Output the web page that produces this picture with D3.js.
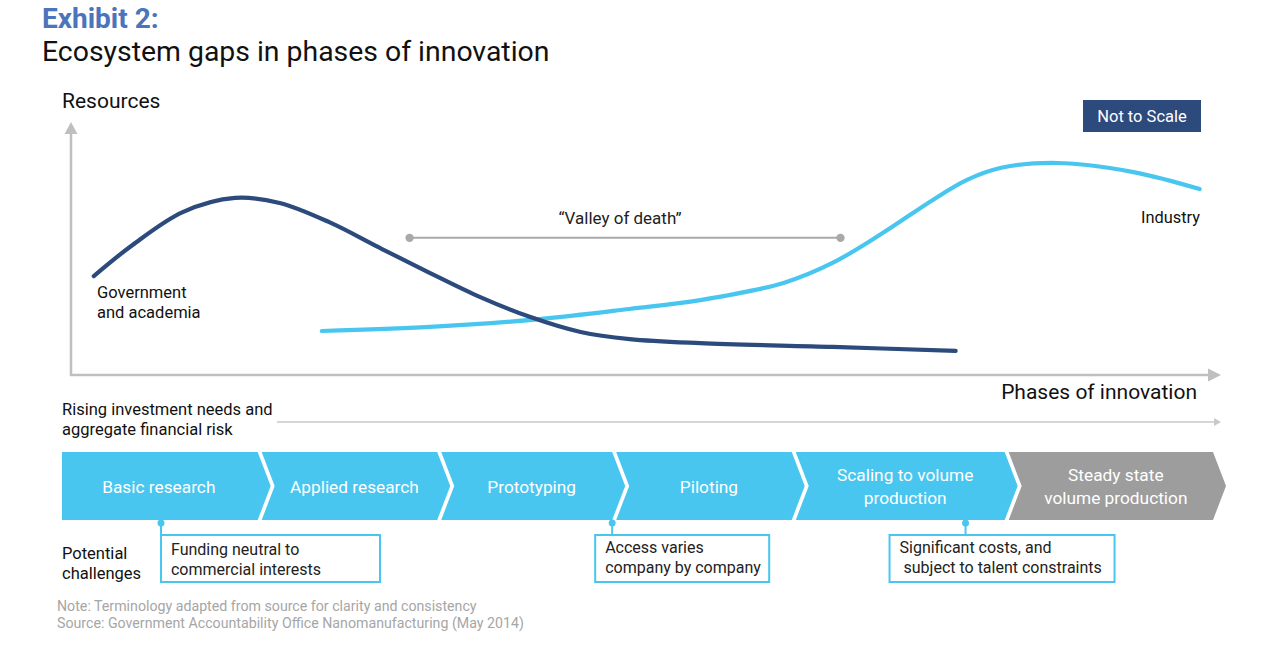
<!DOCTYPE html>
<html>
<head>
<meta charset="utf-8">
<script src="https://cdn.jsdelivr.net/npm/d3@7"></script>
<style>
  body { margin: 0; background: #fff; }
  svg { display: block; font-family: Roboto, "Open Sans", sans-serif; }
</style>
</head>
<body>
<div id="chart"></div>
<script>
/* Exhibit 2 — ecosystem gaps in phases of innovation */

// curves, in phase (x 0-100) and resource (y 0-100) units
var govCurve = [
  [2.0, 39.1], [5.4, 51.4], [9.8, 64.4], [14.4, 70.0], [18.3, 68.0],
  [22.7, 60.3], [27.1, 50.2], [31.5, 40.3], [35.9, 30.8], [40.3, 22.9],
  [44.7, 17.0], [49.0, 14.2], [55.2, 12.6], [66.8, 11.1], [77.6, 9.5]
];
var industryCurve = [
  [22.0, 17.4], [31.5, 19.0], [41.1, 22.1], [49.0, 26.1], [55.2, 29.6],
  [62.5, 36.4], [66.8, 44.3], [71.2, 56.1], [75.6, 69.2], [78.6, 77.1],
  [81.5, 81.8], [86.5, 83.8], [93.2, 80.2], [99.0, 73.5]
];
var valleyRange = [29.7, 67.5];
var valleyLevel = 54.2;

// stages along the bar, boundaries in 0-100 units
var stageNames = [
  ['Basic research'], ['Applied research'], ['Prototyping'], ['Piloting'],
  ['Scaling to volume', 'production'], ['Steady state', 'volume production']
];
var stageBounds = [0, 17.0, 32.6, 47.8, 63.4, 81.9, 100];
var stageSteady = [false, false, false, false, false, true];

// challenges, anchored to a point on the stage bar
var challengeText = [
  ['Funding neutral to', 'commercial interests'],
  ['Access varies', 'company by company'],
  ['Significant costs, and', ' subject to talent constraints']
];
var challengeAnchor = [8.6, 47.8, 78.5];

var noteLines = [
  'Note: Terminology adapted from source for clarity and consistency',
  'Source: Government Accountability Office Nanomanufacturing (May 2014)'
];

var W = 1282, H = 646;
var NAVY = '#2c4a7c', CYAN = '#48c6f0', AXIS = '#bfbfbf', GREYBAR = '#9d9d9d';

var svg = d3.select('#chart').append('svg')
  .attr('width', W).attr('height', H);

// title
svg.append('text').attr('x', 42).attr('y', 28)
  .attr('fill', '#4a74bb').attr('font-size', 28).attr('font-weight', 700)
  .text('Exhibit 2:');
svg.append('text').attr('x', 42).attr('y', 61)
  .attr('fill', '#111').attr('font-size', 28.4)
  .text('Ecosystem gaps in phases of innovation');

var x = d3.scaleLinear().domain([0, 100]).range([71, 1211]);
var y = d3.scaleLinear().domain([0, 100]).range([375, 122]);

// axes
var g = svg.append('g');
g.append('line')
  .attr('x1', x(0)).attr('x2', x(0)).attr('y1', y(0) + 1).attr('y2', y(100) + 10)
  .attr('stroke', AXIS).attr('stroke-width', 2.5);
g.append('path')
  .attr('d', 'M' + x(0) + ',' + y(100) + 'l-6.5,12h13z')
  .attr('fill', AXIS);
g.append('line')
  .attr('x1', x(0) - 1).attr('x2', 1208).attr('y1', y(0)).attr('y2', y(0))
  .attr('stroke', AXIS).attr('stroke-width', 2.5);
g.append('path')
  .attr('d', 'M1221,' + y(0) + 'l-13,-6.5v13z')
  .attr('fill', AXIS);

g.append('text').attr('x', 62).attr('y', 108)
  .attr('font-size', 21).attr('fill', '#111').text('Resources');
g.append('text').attr('x', 1197).attr('y', 399).attr('text-anchor', 'end')
  .attr('font-size', 21).attr('fill', '#111').text('Phases of innovation');

// not to scale badge
svg.append('rect').attr('x', 1083).attr('y', 100).attr('width', 118).attr('height', 32)
  .attr('fill', NAVY);
svg.append('text').attr('x', 1142).attr('y', 122).attr('text-anchor', 'middle')
  .attr('font-size', 16.5).attr('fill', '#fff').text('Not to Scale');

// valley of death
svg.append('line')
  .attr('x1', x(valleyRange[0])).attr('x2', x(valleyRange[1]))
  .attr('y1', y(valleyLevel)).attr('y2', y(valleyLevel))
  .attr('stroke', '#a9a9a9').attr('stroke-width', 2);
svg.selectAll('circle.vd').data(valleyRange).enter().append('circle')
  .attr('class', 'vd')
  .attr('cx', function(d) { return x(d); }).attr('cy', y(valleyLevel))
  .attr('r', 4.2).attr('fill', '#a9a9a9');
svg.append('text')
  .attr('x', (x(valleyRange[0]) + x(valleyRange[1])) / 2 - 5).attr('y', 224)
  .attr('text-anchor', 'middle').attr('font-size', 17).attr('fill', '#222')
  .text('\u201cValley of death\u201d');

// curves
var line = d3.line()
  .x(function(d) { return x(d[0]); })
  .y(function(d) { return y(d[1]); })
  .curve(d3.curveCatmullRom.alpha(0.5));

svg.append('path').datum(industryCurve).attr('d', line)
  .attr('fill', 'none').attr('stroke', CYAN).attr('stroke-width', 4.2)
  .attr('stroke-linecap', 'round');
svg.append('path').datum(govCurve).attr('d', line)
  .attr('fill', 'none').attr('stroke', NAVY).attr('stroke-width', 4.2)
  .attr('stroke-linecap', 'round');

svg.append('text').attr('x', 97).attr('y', 298)
  .attr('font-size', 16.5).attr('fill', '#111')
  .selectAll('tspan').data(['Government', 'and academia']).enter().append('tspan')
  .attr('x', 97).attr('dy', function(d, i) { return i ? 20 : 0; })
  .text(function(d) { return d; });
svg.append('text').attr('x', 1200).attr('y', 223).attr('text-anchor', 'end')
  .attr('font-size', 16.4).attr('fill', '#111').text('Industry');

// rising investment arrow
svg.append('text').attr('x', 62).attr('y', 415)
  .attr('font-size', 16.5).attr('fill', '#111')
  .selectAll('tspan').data(['Rising investment needs and', 'aggregate financial risk'])
  .enter().append('tspan')
  .attr('x', 62).attr('dy', function(d, i) { return i ? 20 : 0; })
  .text(function(d) { return d; });
svg.append('line').attr('x1', 277).attr('x2', 1215).attr('y1', 422).attr('y2', 422)
  .attr('stroke', '#c8c8c8').attr('stroke-width', 1.5);
svg.append('path').attr('d', 'M1221,422l-7,-4v8z').attr('fill', '#c8c8c8');

// stage chevrons
var sx = d3.scaleLinear().domain([0, 100]).range([62, 1213]);
var barTop = 452, barBot = 520, barMid = (barTop + barBot) / 2, tip = 13, gap = 4;

var stages = stageNames.map(function(n, i) {
  return { lines: n, x0: stageBounds[i], x1: stageBounds[i + 1], steady: stageSteady[i], i: i };
});

var chev = svg.append('g').selectAll('g').data(stages).enter().append('g');
chev.append('path')
  .attr('d', function(d) {
    var a = sx(d.x0) + (d.i ? gap : 0), b = sx(d.x1);
    var p = 'M' + a + ',' + barTop + 'H' + b + 'L' + (b + tip) + ',' + barMid +
      'L' + b + ',' + barBot + 'H' + a;
    if (d.i) p += 'L' + (a + tip) + ',' + barMid;
    return p + 'Z';
  })
  .attr('fill', function(d) { return d.steady ? GREYBAR : CYAN; });
chev.append('text')
  .attr('text-anchor', 'middle').attr('fill', '#fff').attr('font-size', 17.3)
  .each(function(d) {
    var cx = (sx(d.x0) + sx(d.x1)) / 2 + (d.i ? 7 : -1);
    var y0 = d.lines.length > 1 ? 481 : 493;
    d3.select(this).selectAll('tspan').data(d.lines).enter().append('tspan')
      .attr('x', cx).attr('y', function(t, k) { return y0 + k * 23; })
      .text(function(t) { return t; });
  });

// potential challenges
svg.append('text').attr('x', 62).attr('y', 559)
  .attr('font-size', 16.5).attr('fill', '#111')
  .selectAll('tspan').data(['Potential', 'challenges']).enter().append('tspan')
  .attr('x', 62).attr('dy', function(d, i) { return i ? 20 : 0; })
  .text(function(d) { return d; });

var boxOffset = [0, -17, -76], boxWidth = [219, 174, 225], boxTextY = [555, 553, 553];
var boxTop = 535, boxH = 47;
var ch = svg.append('g').selectAll('g').data(challengeText).enter().append('g');
ch.append('line')
  .attr('x1', function(d, i) { return sx(challengeAnchor[i]); })
  .attr('x2', function(d, i) { return sx(challengeAnchor[i]); })
  .attr('y1', 523).attr('y2', boxTop)
  .attr('stroke', CYAN).attr('stroke-width', 2);
ch.append('circle')
  .attr('cx', function(d, i) { return sx(challengeAnchor[i]); })
  .attr('cy', 523).attr('r', 3.5).attr('fill', CYAN);
ch.append('rect')
  .attr('x', function(d, i) { return sx(challengeAnchor[i]) + boxOffset[i]; })
  .attr('y', boxTop).attr('width', function(d, i) { return boxWidth[i]; })
  .attr('height', boxH)
  .attr('fill', '#fff').attr('stroke', CYAN).attr('stroke-width', 2);
ch.append('text')
  .attr('font-size', 16).attr('fill', '#222').attr('xml:space', 'preserve')
  .style('white-space', 'pre')
  .each(function(d, i) {
    var tx = sx(challengeAnchor[i]) + boxOffset[i] + 10;
    d3.select(this).selectAll('tspan').data(d).enter().append('tspan')
      .attr('x', tx).attr('y', function(t, k) { return boxTextY[i] + k * 20; })
      .text(function(t) { return t; });
  });

// notes
svg.append('g').selectAll('text').data(noteLines).enter().append('text')
  .attr('x', 57).attr('y', function(d, i) { return 611 + i * 17; })
  .attr('font-size', 14.2).attr('fill', '#a6a6a6')
  .text(function(d) { return d; });
</script>
</body>
</html>
